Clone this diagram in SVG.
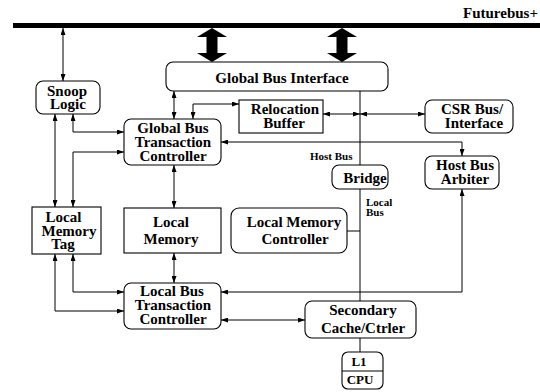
<svg xmlns="http://www.w3.org/2000/svg" width="540" height="392" viewBox="0 0 540 392">
<defs>
<marker id="ah" viewBox="0 0 7 5" refX="7" refY="2.5" markerWidth="7" markerHeight="5" markerUnits="userSpaceOnUse" orient="auto-start-reverse">
<path d="M0,0 L7,2.5 L0,5 Z" fill="#000"/>
</marker>
</defs>
<style>
.box{fill:#fff;stroke:#000;stroke-width:1.1}
.t{font-family:"Liberation Serif","Times New Roman",serif;font-weight:bold;font-size:15px;fill:#000;text-anchor:middle}
.s{font-family:"Liberation Serif","Times New Roman",serif;font-weight:bold;font-size:11px;fill:#000}
.c{fill:none;stroke:#000;stroke-width:1;marker-start:url(#ah);marker-end:url(#ah)}
.l{fill:none;stroke:#000;stroke-width:1}
</style>
<rect width="540" height="392" fill="#fff"/>
<g id="futurebus">
<rect x="13" y="23" width="527" height="5" fill="#000"/>
<text class="t" x="538" y="18" style="text-anchor:end">Futurebus+</text>
<polygon points="212,28 227,37 217.5,37 217.5,53 227,53 212,62 197,53 206.5,53 206.5,37 197,37" fill="#000"/>
<polygon points="342,28 357,37 347.5,37 347.5,53 357,53 342,62 327,53 336.5,53 336.5,37 327,37" fill="#000"/>
</g>
<g id="connectors">
<path class="c" d="M63,28 V81"/>
<path class="c" d="M73,114 V132 H124"/>
<path class="c" d="M55,114 V207"/>
<path class="c" d="M73,207 V152 H124"/>
<path class="c" d="M174,91 V119"/>
<path class="c" d="M193,119 V104 H239"/>
<path class="c" d="M323,114 H360"/>
<path class="c" d="M360,114 H425"/>
<path class="c" d="M221,142 H462 V156"/>
<path class="c" d="M174,165 V208"/>
<path class="c" d="M174,253 V283"/>
<path class="c" d="M73,254 V292 H124"/>
<path class="c" d="M55,254 V311 H124"/>
<path class="c" d="M221,292 H462 V189"/>
<path class="c" d="M221,320 H305"/>
<path class="l" d="M360,91 V165 M360,189 V301 M347,231 H360 M360,338 V352"/>
<text class="s" x="310" y="160">Host Bus</text>
<text class="s" x="366" y="206">Local</text>
<text class="s" x="366" y="216">Bus</text>
</g>
<g id="gbi">
<rect class="box" x="166" y="62" width="222" height="29" rx="7"/>
<text class="t" x="282" y="83">Global Bus Interface</text>
</g>
<g id="snoop">
<rect class="box" x="36" y="81" width="64" height="33" rx="7"/>
<text class="t" x="67" y="96">Snoop</text>
<text class="t" x="68" y="108.5">Logic</text>
</g>
<g id="gbtc">
<rect class="box" x="124" y="119" width="97" height="46" rx="7"/>
<text class="t" x="173" y="133">Global Bus</text>
<text class="t" x="173" y="147">Transaction</text>
<text class="t" x="173" y="161">Controller</text>
</g>
<g id="reloc">
<rect class="box" x="239" y="100" width="84" height="33"/>
<text class="t" x="285" y="113.5">Relocation</text>
<text class="t" x="284" y="127.5">Buffer</text>
</g>
<g id="csr">
<rect class="box" x="425" y="100" width="88" height="33" rx="7"/>
<text class="t" x="472" y="114">CSR Bus/</text>
<text class="t" x="474" y="127.5">Interface</text>
</g>
<g id="hba">
<rect class="box" x="425" y="156" width="74" height="33" rx="7"/>
<text class="t" x="465" y="170">Host Bus</text>
<text class="t" x="465" y="183.5">Arbiter</text>
</g>
<g id="bridge">
<rect class="box" x="332" y="165" width="56" height="24" rx="7"/>
<text class="t" x="365" y="182.5">Bridge</text>
</g>
<g id="lmt">
<rect class="box" x="32" y="207" width="69" height="47"/>
<text class="t" x="63.5" y="221.5">Local</text>
<text class="t" x="69" y="236">Memory</text>
<text class="t" x="63" y="249">Tag</text>
</g>
<g id="lm">
<rect class="box" x="124" y="208" width="97" height="45"/>
<text class="t" x="171" y="226.5">Local</text>
<text class="t" x="171" y="244">Memory</text>
</g>
<g id="lmc">
<rect class="box" x="231" y="208" width="116" height="45" rx="8"/>
<text class="t" x="294" y="226.5">Local Memory</text>
<text class="t" x="295" y="244">Controller</text>
</g>
<g id="lbtc">
<rect class="box" x="124" y="283" width="97" height="46" rx="7"/>
<text class="t" x="172" y="296">Local Bus</text>
<text class="t" x="173" y="310">Transaction</text>
<text class="t" x="173" y="324">Controller</text>
</g>
<g id="sc">
<rect class="box" x="305" y="301" width="111" height="37" rx="7"/>
<text class="t" x="363" y="315">Secondary</text>
<text class="t" x="363" y="333">Cache/Ctrler</text>
</g>
<g id="cpu">
<rect class="box" x="342" y="352" width="41" height="37" rx="6"/>
<line class="l" x1="342" y1="371" x2="383" y2="371"/>
<text class="t" x="359" y="366" style="font-size:13px">L1</text>
<text class="t" x="360" y="384" style="font-size:13px">CPU</text>
</g>
</svg>
